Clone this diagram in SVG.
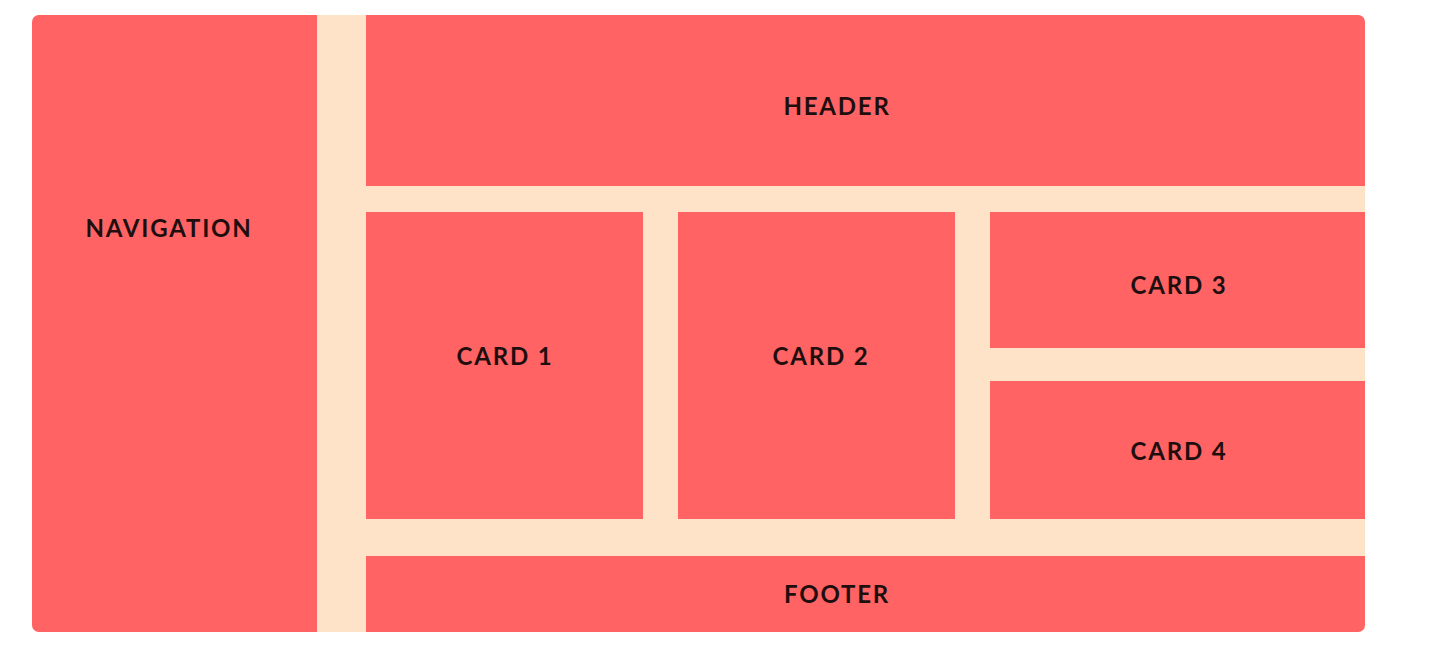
<svg xmlns="http://www.w3.org/2000/svg" width="1445" height="667" viewBox="0 0 1445 667">
<style>
.box{fill:#FF6363}
.lbl{font-family:Lato,"Noto Sans",sans-serif;font-weight:700;font-size:24px;fill:#1E0E0E;text-anchor:middle;dominant-baseline:central;letter-spacing:1.8px}
</style>
<defs>
<clipPath id="c"><rect x="32" y="15" width="1333" height="617" rx="7" ry="7"/></clipPath>
</defs>
<rect width="1445" height="667" fill="#FFFFFF"/>
<g clip-path="url(#c)">
<rect x="32" y="15" width="1333" height="617" fill="#FFE3C9"/>
<g id="navigation"><rect class="box" x="32" y="15" width="285" height="617"/><text class="lbl" x="169" y="227">NAVIGATION</text></g>
<g id="header"><rect class="box" x="366" y="15" width="999" height="171"/><text class="lbl" x="837" y="105">HEADER</text></g>
<g id="card1"><rect class="box" x="366" y="212" width="277" height="307"/><text class="lbl" x="505" y="355">CARD 1</text></g>
<g id="card2"><rect class="box" x="678" y="212" width="277" height="307"/><text class="lbl" x="821" y="355">CARD 2</text></g>
<g id="card3"><rect class="box" x="990" y="212" width="375" height="136"/><text class="lbl" x="1179" y="284">CARD 3</text></g>
<g id="card4"><rect class="box" x="990" y="381" width="375" height="138"/><text class="lbl" x="1179" y="450">CARD 4</text></g>
<g id="footer"><rect class="box" x="366" y="556" width="999" height="76"/><text class="lbl" x="837" y="593">FOOTER</text></g>
</g>
<g id="connectors"/>
</svg>
